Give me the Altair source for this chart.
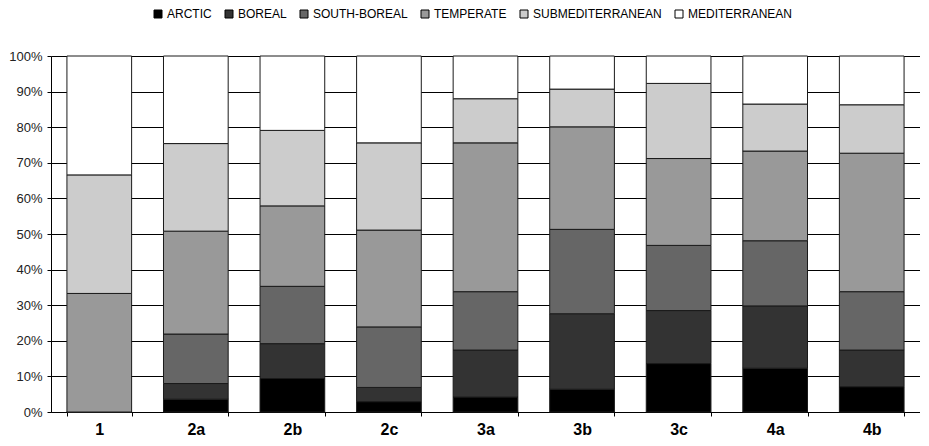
import altair as alt
import pandas as pd

categories = ["1", "2a", "2b", "2c", "3a", "3b", "3c", "4a", "4b"]
series = ["ARCTIC", "BOREAL", "SOUTH-BOREAL", "TEMPERATE", "SUBMEDITERRANEAN", "MEDITERRANEAN"]
colors = ["#000000", "#333333", "#666666", "#999999", "#cccccc", "#ffffff"]

arctic = [0.0, 3.6, 9.4, 2.9, 4.2, 6.4, 13.6, 12.3, 7.1]
boreal = [0.0, 4.4, 9.8, 4.0, 13.2, 21.2, 14.9, 17.5, 10.3]
south_boreal = [0.0, 13.9, 16.1, 17.0, 16.4, 23.7, 18.3, 18.3, 16.4]
temperate = [33.3, 28.9, 22.6, 27.2, 41.8, 28.8, 24.4, 25.2, 38.9]
submediterranean = [33.3, 24.6, 21.2, 24.5, 12.4, 10.6, 21.1, 13.2, 13.6]
mediterranean = [33.4, 24.6, 20.9, 24.4, 12.0, 9.3, 7.7, 13.5, 13.7]

values = [arctic, boreal, south_boreal, temperate, submediterranean, mediterranean]
rows = []
for si, (name, vals) in enumerate(zip(series, values)):
    for cat, v in zip(categories, vals):
        rows.append({"cat": cat, "series": name, "order": si, "value": v})
df = pd.DataFrame(rows)

chart = alt.Chart(df).mark_bar(stroke="#1a1a1a", strokeWidth=1).encode(
    x=alt.X("cat:N", sort=categories,
            scale=alt.Scale(paddingInner=0.33, paddingOuter=0.165),
            axis=alt.Axis(title=None, labelAngle=0, labelFontWeight="bold",
                          labelFontSize=16, labelColor="#000000", labelPadding=5,
                          tickBand="extent", tickSize=4, tickColor="#000000",
                          domainColor="#000000", grid=False)),
    y=alt.Y("value:Q", stack="zero",
            scale=alt.Scale(domain=[0, 100], nice=False),
            axis=alt.Axis(title=None, values=list(range(0, 101, 10)),
                          labelExpr="datum.value + '%'", labelFontSize=13,
                          labelColor="#222222", tickSize=4, tickColor="#000000",
                          domainColor="#000000", gridColor="#000000",
                          gridWidth=1, gridOpacity=1, labelPadding=5)),
    color=alt.Color("series:N", sort=series,
                    scale=alt.Scale(domain=series, range=colors),
                    legend=alt.Legend(title=None, orient="none", direction="horizontal",
                                      legendX=101, legendY=-48,
                                      symbolType="square", symbolSize=64,
                                      symbolStrokeColor="#000000", symbolStrokeWidth=1,
                                      labelFontSize=12, labelFont="Liberation Sans",
                                      labelColor="#000000", columnPadding=11,
                                      labelOffset=3)),
    order=alt.Order("order:Q", sort="ascending"),
).properties(width=869, height=356, padding=0).configure_view(stroke=None).configure(
    font="Liberation Sans"
).configure_axis(labelFont="Liberation Sans")

chart.save("out.html", embed_options={"renderer": "svg", "actions": False})
